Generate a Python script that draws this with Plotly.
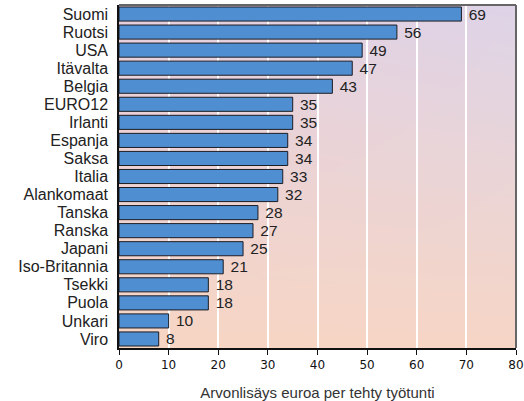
import base64
import struct
import zlib

import numpy as np
import plotly.graph_objects as go

countries = ["Suomi", "Ruotsi", "USA", "Itävalta", "Belgia", "EURO12", "Irlanti",
             "Espanja", "Saksa", "Italia", "Alankomaat", "Tanska", "Ranska", "Japani",
             "Iso-Britannia", "Tsekki", "Puola", "Unkari", "Viro"]
values = [69, 56, 49, 47, 43, 35, 35, 34, 34, 33, 32, 28, 27, 25, 21, 18, 18, 10, 8]
x_ticks = [0, 10, 20, 30, 40, 50, 60, 70, 80]

SANS = "Liberation Sans, Arial, sans-serif"


def gradient_png(w, h):
    """Lavender (top) to peach (bottom) background, slightly pinker on the left."""
    top_l = np.array([230, 208, 224], float)
    top_r = np.array([222, 212, 232], float)
    bot_l = np.array([247, 214, 196], float)
    bot_r = np.array([247, 214, 198], float)
    ys = np.linspace(0, 1, h)[:, None, None]
    xs = np.linspace(0, 1, w)[None, :, None]
    top = top_l * (1 - xs) + top_r * xs
    bot = bot_l * (1 - xs) + bot_r * xs
    img = (top * (1 - ys) + bot * ys).clip(0, 255).astype(np.uint8)
    raw = b"".join(b"\x00" + img[r].tobytes() for r in range(h))

    def chunk(tag, data):
        c = struct.pack(">I", len(data)) + tag + data
        return c + struct.pack(">I", zlib.crc32(tag + data) & 0xFFFFFFFF)

    png = b"\x89PNG\r\n\x1a\n"
    png += chunk(b"IHDR", struct.pack(">IIBBBBB", w, h, 8, 2, 0, 0, 0))
    png += chunk(b"IDAT", zlib.compress(raw, 9))
    png += chunk(b"IEND", b"")
    return "data:image/png;base64," + base64.b64encode(png).decode()


fig = go.Figure(go.Bar(
    x=values,
    y=countries,
    orientation="h",
    marker=dict(color="#4f8fd1", line=dict(color="#1c1c24", width=1)),
    text=[" " + str(v) for v in values],
    textposition="outside",
    textfont=dict(family=SANS, size=15.5, color="#222222"),
    cliponaxis=False,
))

fig.update_layout(
    width=524,
    height=401,
    margin=dict(l=119, r=8, t=5, b=53),
    paper_bgcolor="white",
    plot_bgcolor="rgba(0,0,0,0)",
    bargap=0.22,
    showlegend=False,
    font=dict(family=SANS, color="#222222"),
    uniformtext=dict(minsize=15, mode="show"),
    images=[dict(
        source=gradient_png(200, 170),
        xref="paper", yref="paper", x=0, y=1, sizex=1, sizey=1,
        sizing="stretch", layer="below",
    )],
    xaxis=dict(
        range=[0, 80],
        tickvals=x_ticks,
        ticks="outside",
        ticklen=5,
        tickcolor="#111111",
        tickfont=dict(family="DejaVu Sans, Verdana, sans-serif", size=12, color="#111111"),
        showgrid=True,
        gridcolor="white",
        gridwidth=1.5,
        zeroline=False,
        showline=True,
        linecolor="#111111",
        linewidth=1.5,
        mirror=False,
        automargin=False,
        title=dict(text="Arvonlisäys euroa per tehty työtunti",
                   font=dict(family=SANS, size=15, color="#333333"), standoff=18),
    ),
    yaxis=dict(
        categoryorder="array",
        categoryarray=countries[::-1],
        tickmode="array",
        tickvals=countries,
        ticktext=countries,
        tickfont=dict(family=SANS, size=16, color="#222222"),
        ticks="",
        ticklabelstandoff=6,
        showgrid=False,
        zeroline=False,
        showline=True,
        linecolor="#111111",
        linewidth=1.5,
        automargin=False,
    ),
    shapes=[
        dict(type="line", xref="paper", yref="paper", x0=0, x1=1, y0=1, y1=1,
             line=dict(color="#666666", width=2)),
        dict(type="line", xref="paper", yref="paper", x0=1, x1=1, y0=0, y1=1,
             line=dict(color="#666666", width=2)),
    ],
)

fig.write_html("out.html")
